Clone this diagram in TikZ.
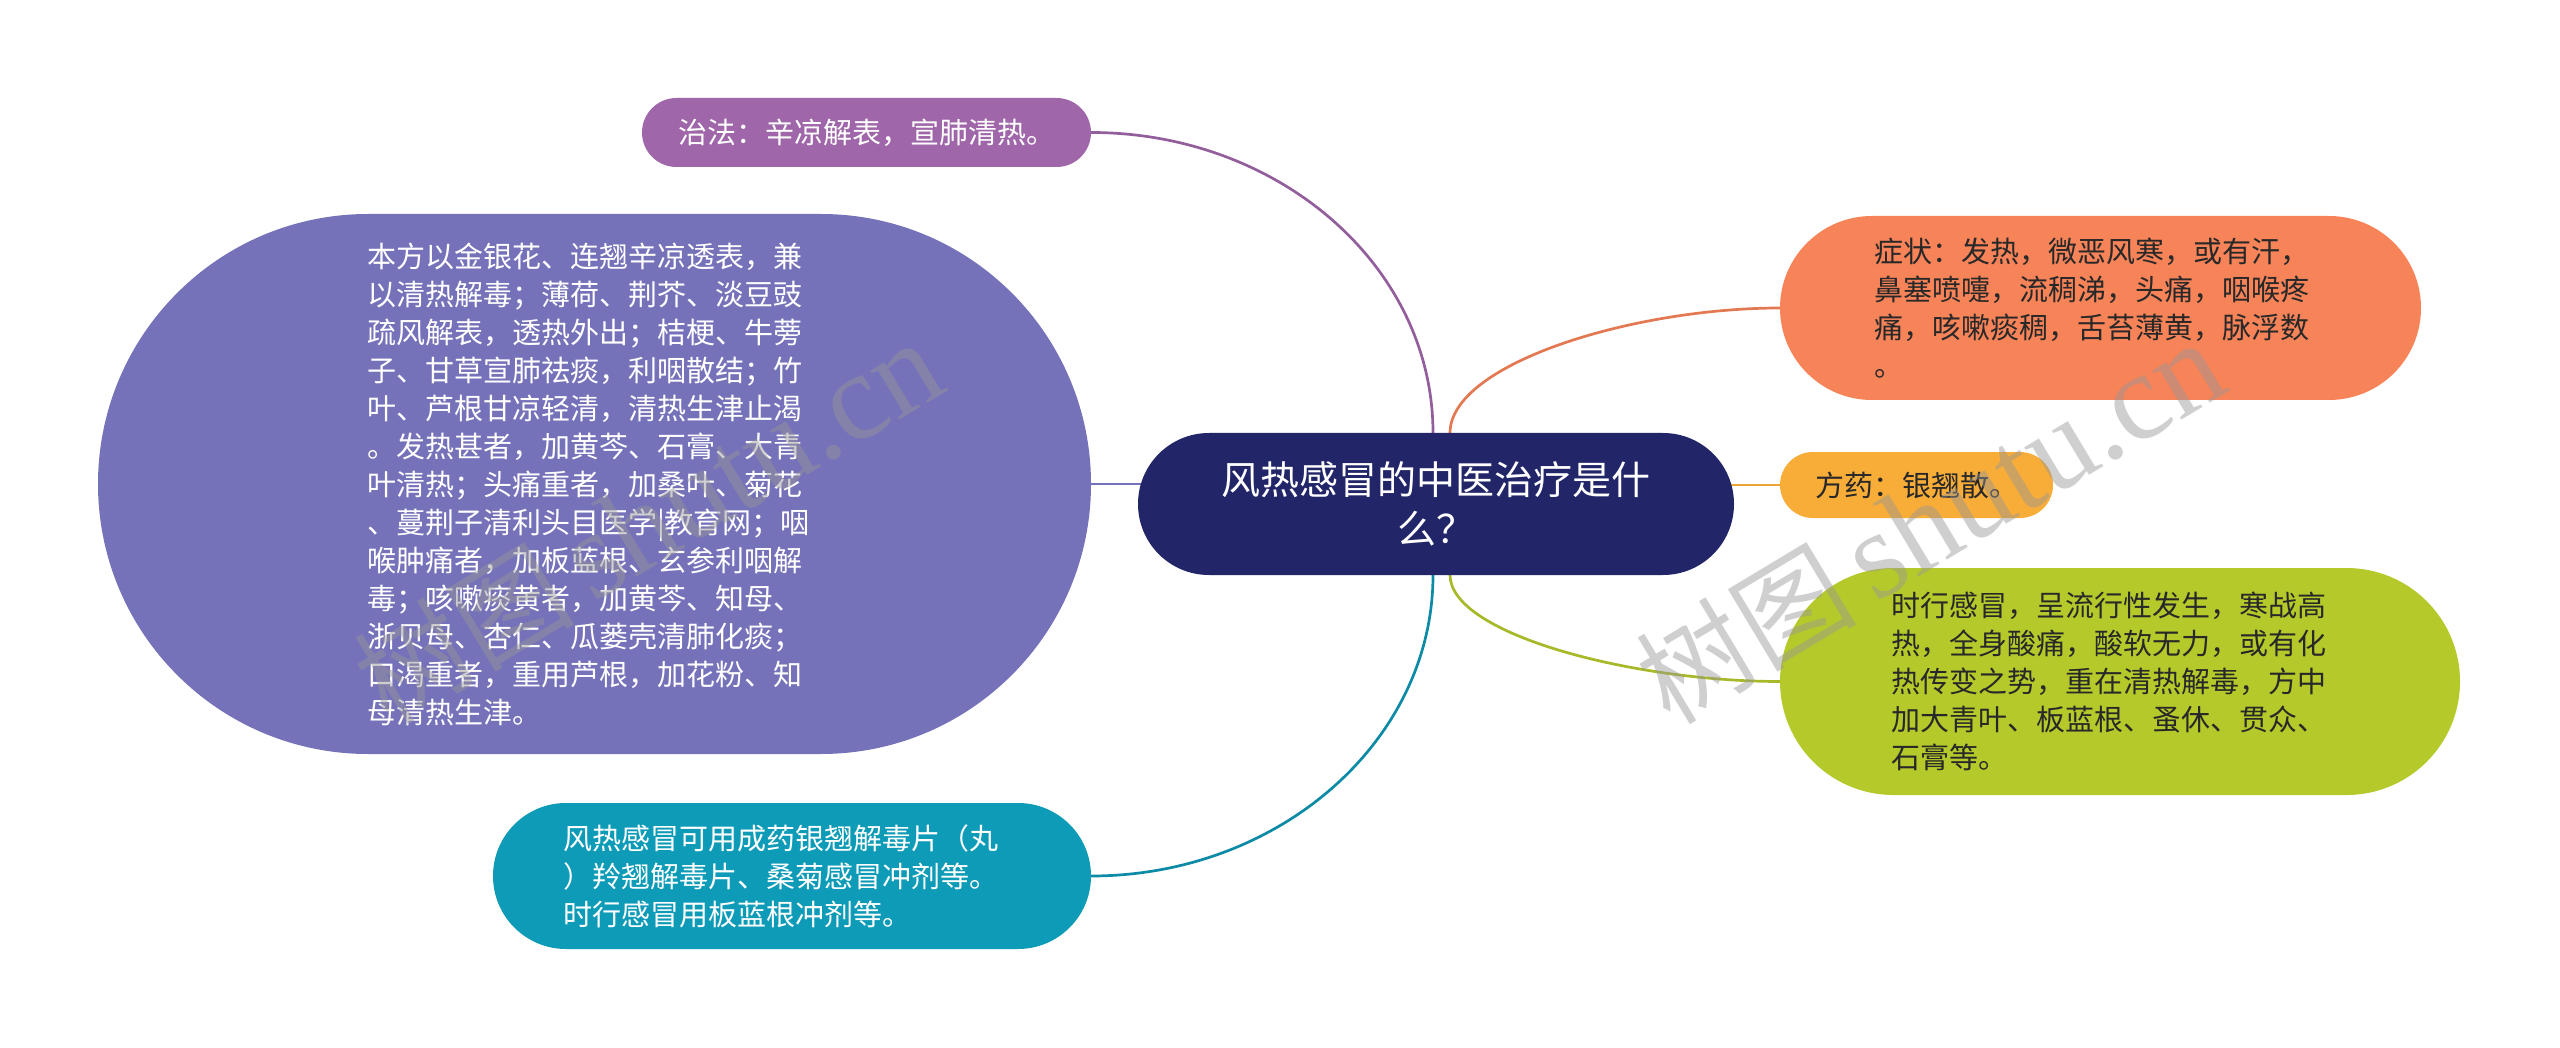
\documentclass[tikz,border=0pt]{standalone}
\usepackage{fontspec}
\newfontfamily\cjk{Noto Sans CJK SC}
\newfontfamily\wmlat{Liberation Serif}
\usetikzlibrary{calc}
\pgfdeclarelayer{bg}
\pgfdeclarelayer{paper}
\pgfsetlayers{paper,bg,main}
\definecolor{cnavy}{RGB}{34,37,104}
\definecolor{cpurple}{RGB}{160,102,170}
\definecolor{clav}{RGB}{118,114,186}
\definecolor{corange}{RGB}{247,131,89}
\definecolor{cyellow}{RGB}{249,173,57}
\definecolor{cgreen}{RGB}{181,201,43}
\definecolor{cteal}{RGB}{14,155,184}
\definecolor{cdark}{RGB}{40,40,40}
\definecolor{cwm}{RGB}{150,150,150}
\begin{document}
\begin{tikzpicture}[x=1pt,y=-1pt,
  box/.style={rectangle, inner sep=0pt, outer sep=0pt, align=left,
    font=\cjk\fontsize{29}{38}\selectfont},
  link/.style={line width=2.7pt},
  wmark/.style={rotate=31, text=cwm, opacity=0.45, inner sep=0pt}]
\begin{pgfonlayer}{paper}
\fill[white] (0,0) rectangle (2560,1048);
\end{pgfonlayer}
\useasboundingbox (0,0) rectangle (2560,1048);

% central
\node[box, fill=cnavy, rounded corners=71pt, minimum width=596pt, minimum height=142pt,
  text width=460pt, align=center, text=white, font=\cjk\fontsize{39}{49}\selectfont]
  (root) at (1436,504) {风热感冒的中医治疗是什\\么？};

% left side
\node[box, fill=cpurple, rounded corners=34.5pt, minimum width=449pt, minimum height=69pt,
  text=white] (zf) at (866.5,132.5) {治法：辛凉解表，宣肺清热。};

\node[box, fill=clav, rounded corners=270pt, minimum width=993pt, minimum height=540pt,
  text width=455pt, text=white] (bf) at (594.5,484)
  {本方以金银花、连翘辛凉透表，兼\\以清热解毒；薄荷、荆芥、淡豆豉\\疏风解表，透热外出；桔梗、牛蒡\\子、甘草宣肺祛痰，利咽散结；竹\\叶、芦根甘凉轻清，清热生津止渴\\。发热甚者，加黄芩、石膏、大青\\叶清热；头痛重者，加桑叶、菊花\\、蔓荆子清利头目医学|教育网；咽\\喉肿痛者，加板蓝根、玄参利咽解\\毒；咳嗽痰黄者，加黄芩、知母、\\浙贝母、杏仁、瓜蒌壳清肺化痰；\\口渴重者，重用芦根，加花粉、知\\母清热生津。};

\node[box, fill=cteal, rounded corners=73pt, minimum width=598pt, minimum height=146pt,
  text width=458pt, text=white] (cy) at (792,876)
  {风热感冒可用成药银翘解毒片（丸\\）羚翘解毒片、桑菊感冒冲剂等。\\时行感冒用板蓝根冲剂等。};

% right side
\node[box, fill=corange, rounded corners=92pt, minimum width=641pt, minimum height=184pt,
  text width=453pt, text=cdark] (zz) at (2100.5,308)
  {症状：发热，微恶风寒，或有汗，\\鼻塞喷嚏，流稠涕，头痛，咽喉疼\\痛，咳嗽痰稠，舌苔薄黄，脉浮数\\。};

\node[box, fill=cyellow, rounded corners=33pt, minimum width=273pt, minimum height=66pt,
  text=cdark] (fy) at (1916.5,485) {方药：银翘散。};

\node[box, fill=cgreen, rounded corners=113.5pt, minimum width=680pt, minimum height=227pt,
  text width=458pt, text=cdark] (sx) at (2120,681.5)
  {时行感冒，呈流行性发生，寒战高\\热，全身酸痛，酸软无力，或有化\\热传变之势，重在清热解毒，方中\\加大青叶、板蓝根、蚤休、贯众、\\石膏等。};

% connectors
\begin{pgfonlayer}{bg}
\coordinate (rtl) at ($(root.north)+(-3,0)$);
\coordinate (rtr) at ($(root.north)+(14,0)$);
\coordinate (rbl) at ($(root.south)+(-3,0)$);
\coordinate (rbr) at ($(root.south)+(14,0)$);
\draw[link, draw=cpurple!92!black] (zf.east) .. controls ($(zf.east)+(189,0)$) and ($(rtl)+(0,-166)$) .. (rtl);
\draw[link, draw=cteal!90!black] (cy.east) .. controls ($(cy.east)+(188,0)$) and ($(rbl)+(0,166)$) .. (rbl);
\draw[link, draw=clav] (bf.east) -- (bf.east -| root.center);
\draw[link, draw=corange!92!black] (rtr) .. controls ($(rtr)+(0,-69)$) and ($(zz.west)+(-148,0)$) .. (zz.west);
\draw[link, draw=cyellow!95!black] (root.center |- fy.west) -- (fy.west);
\draw[link, draw=cgreen!92!black] (rbr) .. controls ($(rbr)+(0,59)$) and ($(sx.west)+(-148,0)$) .. (sx.west);
\end{pgfonlayer}

% watermarks
\node[wmark] (wm1) at (648,522) {\cjk\fontsize{110}{110}\selectfont 树图\,\wmlat\fontsize{124}{124}\selectfont shutu.cn};
\node[wmark] (wm2) at (1930,522) {\cjk\fontsize{110}{110}\selectfont 树图\,\wmlat\fontsize{124}{124}\selectfont shutu.cn};
\end{tikzpicture}
\end{document}
